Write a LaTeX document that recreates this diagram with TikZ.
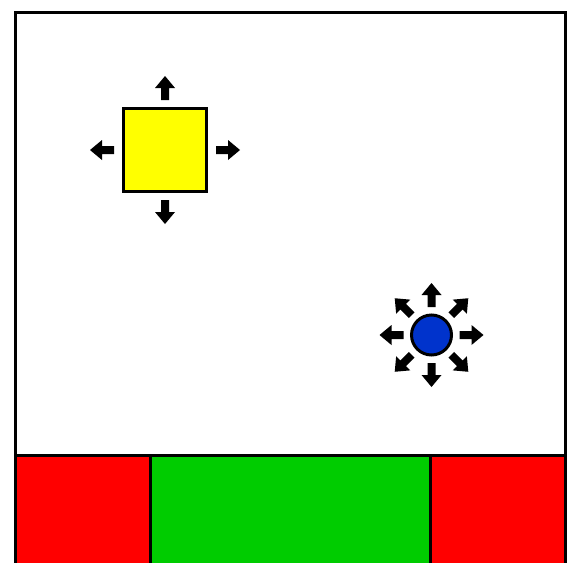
\documentclass[tikz,border=0pt]{standalone}
\definecolor{myred}{RGB}{255,0,0}
\definecolor{mygreen}{RGB}{0,204,0}
\definecolor{myyellow}{RGB}{255,255,0}
\definecolor{myblue}{RGB}{0,51,204}
\tikzset{
  edge/.style={draw=black, line width=3pt},
  pics/blockarrow/.style={code={
    \fill[black] (0,-4) -- (12,-4) -- (12,-10) -- (24,0) -- (12,10) -- (12,4) -- (0,4) -- cycle;}}
}
\begin{document}
\begin{tikzpicture}[x=1pt,y=-1pt]
\useasboundingbox (0,0) rectangle (567,562);
\fill[white] (0,0) rectangle (567,562);
% bottom strip
\path[edge, fill=myred] (15,455) rectangle (150.5,566);
\path[edge, fill=mygreen] (150.5,455) rectangle (430.5,566);
\path[edge, fill=myred] (430.5,455) rectangle (565,566);
% outer frame
\draw[edge] (15,12) rectangle (565,566);
% yellow square
\coordinate (sq) at (165,150);
\path[edge, fill=myyellow] (123.5,108.5) rectangle (206.5,191.5);
\pic[rotate=90] at ([yshift=50pt]sq) {blockarrow};
\pic[rotate=270] at ([yshift=-50pt]sq) {blockarrow};
\pic[rotate=180] at ([xshift=-51pt]sq) {blockarrow};
\pic[rotate=0] at ([xshift=51pt]sq) {blockarrow};
% blue circle
\coordinate (ci) at (431.5,335);
\path[edge, fill=myblue] (ci) circle (20);
\foreach \a in {0,45,...,315}{
  \pic[rotate=\a] at ([shift={(\a:28pt)}]ci) {blockarrow};
}
\end{tikzpicture}
\end{document}
